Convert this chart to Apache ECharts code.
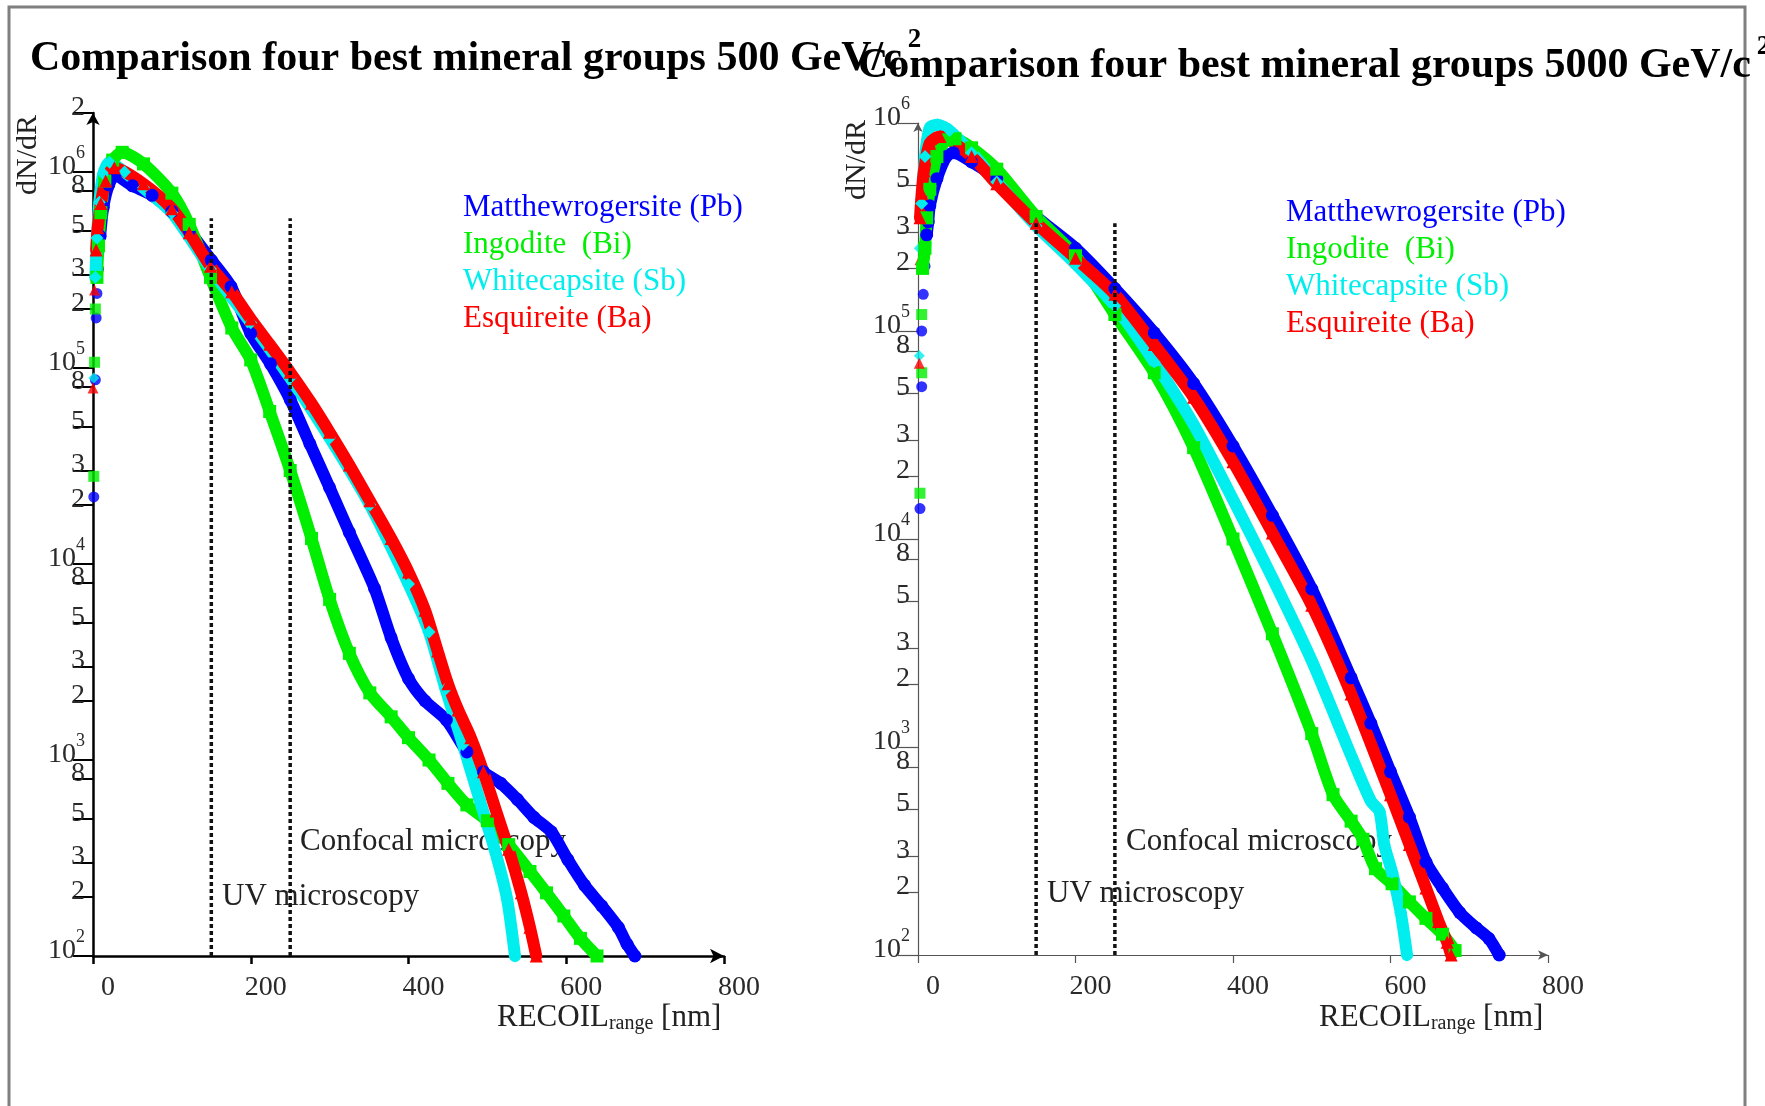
<!DOCTYPE html>
<html>
<head>
<meta charset="utf-8">
<script src="https://cdn.jsdelivr.net/npm/echarts@6/dist/echarts.min.js"></script>
<style>
  html, body { margin: 0; padding: 0; background: #ffffff; }
  #chart { width: 1765px; height: 1106px; }
</style>
</head>
<body>
<div id="chart"></div>
<script>
// Recoil-track spectra dN/dR versus recoil range for four mineral groups,
// WIMP mass 500 GeV/c^2 (left panel) and 5000 GeV/c^2 (right panel).

const minerals = ['Matthewrogersite (Pb)', 'Ingodite  (Bi)', 'Whitecapsite (Sb)', 'Esquireite (Ba)'];

// x-axis ticks (nm) and log-axis ticks (dN/dR)
const rangeTicks = [0, 200, 400, 600, 800];
const countTicks500 = [100, 200, 300, 500, 800, 1e3, 2e3, 3e3, 5e3, 8e3, 1e4, 2e4, 3e4, 5e4, 8e4,
  1e5, 2e5, 3e5, 5e5, 8e5, 1e6, 2e6];
const countTicks5000 = [100, 200, 300, 500, 800, 1e3, 2e3, 3e3, 5e3, 8e3, 1e4, 2e4, 3e4, 5e4, 8e4,
  1e5, 2e5, 3e5, 5e5, 8e5, 1e6];

// microscopy resolution limits (nm) and the height the guide lines reach
const uvLimit = 150;
const confocalLimit = 250;
const guideTop500 = 580000;
const guideTop5000 = 330000;

// ---- 500 GeV/c^2 : [range nm, dN/dR] ----
const pbRise500 = [[1, 22000], [3, 87000], [4, 180000], [5, 240000], [7, 320000]];
const pbCurve500 = [[9, 470000], [13, 660000], [20, 860000], [28, 960000], [50, 850000], [75, 760000],
  [100, 630000], [122, 500000], [150, 355000], [175, 260000], [200, 150000], [225, 105000],
  [250, 69000], [275, 41000], [300, 24500], [325, 14500], [357, 7500], [378, 4200], [400, 2600],
  [421, 2000], [448, 1600], [474, 1100], [495, 870], [517, 760], [538, 630], [559, 510], [581, 430],
  [602, 310], [623, 230], [645, 180], [666, 140], [677, 115], [687, 100]];

const biRise500 = [[1, 28000], [2, 107000], [3, 200000]];
const biCurve500 = [[5, 290000], [7, 420000], [10, 620000], [15, 900000], [25, 1150000], [37, 1260000],
  [64, 1100000], [100, 780000], [122, 540000], [149, 290000], [176, 160000], [200, 110000],
  [224, 60000], [250, 30000], [277, 13500], [300, 6600], [325, 3500], [351, 2200], [378, 1660],
  [400, 1300], [426, 1000], [450, 760], [474, 590], [500, 490], [527, 370], [554, 270], [575, 210],
  [597, 160], [618, 123], [639, 100]];

const sbRise500 = [[1, 89000]];
const sbCurve500 = [[3, 290000], [5, 460000], [8, 700000], [13, 980000], [21, 1120000], [40, 1000000],
  [64, 830000], [100, 620000], [149, 320000], [200, 170000], [250, 89000], [300, 44000],
  [351, 20000], [400, 7900], [426, 4500], [447, 2300], [469, 1200], [490, 630], [511, 330],
  [525, 195], [535, 100]];

const baRise500 = [[0, 79000], [2, 250000]];
const baCurve500 = [[4, 400000], [6, 520000], [10, 690000], [16, 900000], [27, 1050000], [64, 870000],
  [100, 650000], [122, 490000], [149, 330000], [176, 245000], [200, 178000], [224, 132000],
  [250, 95000], [277, 66000], [300, 47000], [325, 32000], [351, 21000], [378, 13500], [400, 9100],
  [421, 5800], [437, 3600], [450, 2450], [463, 1800], [479, 1300], [495, 870], [511, 550],
  [527, 350], [543, 210], [554, 140], [562, 100]];

// ---- 5000 GeV/c^2 ----
const pbRise5000 = [[2.5, 14000], [4.7, 54000], [4.7, 100000], [6.7, 150000], [8.9, 205000]];
const pbCurve5000 = [[11, 290000], [13, 335000], [15, 400000], [24, 540000], [36, 690000], [45, 720000],
  [68, 650000], [100, 540000], [150, 355000], [200, 250000], [250, 160000], [300, 98000],
  [350, 56000], [400, 28000], [450, 13000], [500, 5750], [550, 2150], [575, 1300], [600, 760],
  [624, 460], [645, 280], [666, 210], [688, 160], [709, 135], [725, 120], [738, 100]];

const biRise5000 = [[2.5, 16600], [4.7, 63000], [4.7, 120000]];
const biCurve5000 = [[5.8, 200000], [8.9, 250000], [11, 350000], [15, 480000], [24, 690000], [36, 830000],
  [47, 840000], [68, 760000], [100, 600000], [150, 355000], [200, 230000], [250, 120000],
  [300, 63000], [350, 27500], [400, 10000], [450, 3500], [500, 1160], [527, 590], [550, 440],
  [565, 360], [581, 260], [602, 220], [624, 180], [645, 150], [666, 126], [682, 105]];

const sbRise5000 = [[1.7, 76000], [1.7, 250000]];
const sbCurve5000 = [[4.7, 410000], [8.9, 690000], [15, 950000], [25, 980000], [40, 920000], [68, 720000],
  [100, 520000], [150, 320000], [200, 210000], [250, 132000], [300, 71000], [350, 35500],
  [400, 15500], [450, 6500], [500, 2600], [550, 910], [575, 550], [586, 490], [592, 340],
  [602, 250], [613, 160], [621, 100]];

const baRise5000 = [[1.7, 70000], [2.5, 220000]];
const baCurve5000 = [[2.5, 350000], [4.7, 460000], [7.6, 590000], [15, 800000], [28, 860000], [68, 690000],
  [100, 510000], [150, 330000], [200, 224000], [250, 150000], [300, 86000], [350, 48000],
  [400, 23500], [450, 10700], [500, 4800], [550, 1800], [600, 590], [624, 340], [645, 210],
  [661, 145], [672, 115], [677, 100]];

// ---------------------------------------------------------------------------
const SERIF = "'Liberation Serif', 'Times New Roman', serif";
const mineralColors = ['#0000ff', '#00ee00', '#00eeee', '#ff0000'];
const mineralSymbols = ['circle', 'rect', 'diamond', 'triangle'];
const labelGrey = '#2a2a2a';

function mineralSeries(panel, k, rise, curve) {
  return [
    {
      type: 'line', name: minerals[k], xAxisIndex: panel, yAxisIndex: panel,
      data: curve, symbol: mineralSymbols[k], symbolSize: 13, showAllSymbol: true,
      smooth: 0.25, clip: false, silent: true, animation: false,
      lineStyle: { width: 12, color: mineralColors[k], cap: 'round', join: 'round' },
      itemStyle: { color: mineralColors[k] }
    },
    {
      type: 'scatter', name: minerals[k], xAxisIndex: panel, yAxisIndex: panel,
      data: rise, symbol: mineralSymbols[k], symbolSize: 11,
      clip: false, silent: true, animation: false,
      itemStyle: { color: mineralColors[k] }
    }
  ];
}

function guideLine(panel, x, top) {
  return {
    type: 'line', xAxisIndex: panel, yAxisIndex: panel, data: [[x, 100], [x, top]],
    symbol: 'none', silent: true, animation: false, z: 10,
    lineStyle: { color: '#111', width: 3.5, type: [4, 3] }
  };
}

// power-of-ten ticks read "10" with a raised exponent, the others show the leading digit
function logLabel(v) {
  const e = Math.floor(Math.log10(v) + 1e-9);
  const lead = Math.round(v / Math.pow(10, e));
  return lead === 1 ? '{b|10}{s|' + e + '}' : '{m|' + lead + '}';
}

// all tokens share one box so the digits stand just above their tick and the exponent rides high
const tickRich = {
  m: { fontFamily: SERIF, fontSize: 28, color: labelGrey, lineHeight: 20, padding: [14, 0, 5, 0] },
  b: { fontFamily: SERIF, fontSize: 28, color: labelGrey, lineHeight: 20, padding: [14, 0, 5, 0] },
  s: { fontFamily: SERIF, fontSize: 18, color: labelGrey, lineHeight: 18, padding: [2, 0, 19, 0] }
};

function rangeAxis(grid, strong) {
  const c = strong ? '#000' : '#555';
  const w = strong ? 2.5 : 1.2;
  return {
    type: 'value', gridIndex: grid, min: rangeTicks[0], max: rangeTicks[rangeTicks.length - 1],
    interval: rangeTicks[1] - rangeTicks[0],
    axisLine: { show: true, onZero: false, symbol: ['none', 'arrow'],
      symbolSize: strong ? [11, 14] : [7, 10], lineStyle: { color: c, width: w } },
    axisTick: { show: true, inside: false, length: 8, lineStyle: { color: c, width: w } },
    axisLabel: { margin: 18, padding: [0, 0, 0, 30], fontFamily: SERIF, fontSize: 28, color: labelGrey,
      showMinLabel: true, showMaxLabel: true },
    splitLine: { show: false }
  };
}

function countAxis(grid, ticks, strong) {
  const c = strong ? '#000' : '#555';
  const w = strong ? 2.5 : 1.2;
  return {
    type: 'log', logBase: 10, gridIndex: grid, min: ticks[0], max: ticks[ticks.length - 1],
    axisLine: { show: true, onZero: false, symbol: ['none', 'arrow'],
      symbolSize: strong ? [10, 12] : [7, 9], lineStyle: { color: c, width: w } },
    axisTick: { show: true, inside: false, length: 20, customValues: ticks,
      lineStyle: { color: c, width: strong ? 2 : 1.2 } },
    axisLabel: { customValues: ticks, margin: 8, verticalAlign: 'bottom',
      showMinLabel: true, showMaxLabel: true, hideOverlap: false,
      formatter: logLabel, rich: tickRich },
    minorTick: { show: false },
    splitLine: { show: false }
  };
}

function legendFor(left, top) {
  return {
    orient: 'vertical', left: left, top: top, padding: 0, itemGap: 6,
    itemWidth: 0, itemHeight: 0, icon: 'circle', selectedMode: false,
    textStyle: { fontFamily: SERIF, fontSize: 31 },
    data: minerals.map((n, k) => ({ name: n, textStyle: { color: mineralColors[k] } }))
  };
}

// title text and its "2" exponent share one 54px box; padding places each inside it
const titleRich = {
  t: { fontFamily: SERIF, fontSize: 42, fontWeight: 'bold', color: '#000', lineHeight: 42,
    padding: [12, 0, 0, 0] },
  s: { fontFamily: SERIF, fontSize: 27, fontWeight: 'bold', color: '#000', lineHeight: 27,
    padding: [1, 0, 26, 6] }
};

const axisNameRich = {
  a: { fontFamily: SERIF, fontSize: 31, fill: '#222', lineHeight: 32 },
  r: { fontFamily: SERIF, fontSize: 20, fill: '#222', lineHeight: 8, verticalAlign: 'bottom' }
};

function plainText(x, y, text, opts) {
  return Object.assign({
    type: 'text', x: x, y: y, silent: true,
    style: { text: text, font: '31px ' + SERIF, fill: '#222', verticalAlign: 'middle' }
  }, opts || {});
}

const chart = echarts.init(document.getElementById('chart'), null, { renderer: 'canvas' });

const series = [].concat(
  mineralSeries(0, 0, pbRise500, pbCurve500),
  mineralSeries(0, 1, biRise500, biCurve500),
  mineralSeries(0, 2, sbRise500, sbCurve500),
  mineralSeries(0, 3, baRise500, baCurve500),
  mineralSeries(1, 0, pbRise5000, pbCurve5000),
  mineralSeries(1, 1, biRise5000, biCurve5000),
  mineralSeries(1, 2, sbRise5000, sbCurve5000),
  mineralSeries(1, 3, baRise5000, baCurve5000),
  [guideLine(0, uvLimit, guideTop500), guideLine(0, confocalLimit, guideTop500),
   guideLine(1, uvLimit, guideTop5000), guideLine(1, confocalLimit, guideTop5000)]
);

chart.setOption({
  backgroundColor: '#ffffff',
  animation: false,
  title: [
    { text: '{t|Comparison four best mineral groups 500 GeV/c}{s|2}', left: 30, top: 32, padding: 0,
      textStyle: { rich: titleRich } },
    { text: '{t|Comparison four best mineral groups 5000 GeV/c}{s|2}', left: 858, top: 39, padding: 0,
      textStyle: { rich: titleRich } }
  ],
  grid: [
    { left: 93, top: 113, width: 631, height: 843, outerBoundsMode: 'none' },
    { left: 918, top: 123, width: 630, height: 832, outerBoundsMode: 'none' }
  ],
  xAxis: [rangeAxis(0, true), rangeAxis(1, false)],
  yAxis: [countAxis(0, countTicks500, true), countAxis(1, countTicks5000, false)],
  legend: [legendFor(458, 192), legendFor(1281, 197)],
  series: series,
  graphic: [
    { type: 'rect', silent: true, shape: { x: 9, y: 7, width: 1736, height: 1160 },
      style: { fill: 'none', stroke: '#7f7f7f', lineWidth: 3 } },
    plainText(300, 842, 'Confocal microscopy'),
    plainText(222, 897, 'UV microscopy'),
    plainText(1126, 842, 'Confocal microscopy'),
    plainText(1047, 894, 'UV microscopy'),
    { type: 'text', x: 497, y: 1002, silent: true,
      style: { text: '{a|RECOIL}{r|range}{a| [nm]}', rich: axisNameRich, verticalAlign: 'top' } },
    { type: 'text', x: 1319, y: 1002, silent: true,
      style: { text: '{a|RECOIL}{r|range}{a| [nm]}', rich: axisNameRich, verticalAlign: 'top' } },
    plainText(28, 155, 'dN/dR', { rotation: Math.PI / 2,
      style: { text: 'dN/dR', font: '30px ' + SERIF, fill: '#222', align: 'center', verticalAlign: 'middle' } }),
    plainText(857, 160, 'dN/dR', { rotation: Math.PI / 2,
      style: { text: 'dN/dR', font: '30px ' + SERIF, fill: '#222', align: 'center', verticalAlign: 'middle' } })
  ]
});
</script>
</body>
</html>
